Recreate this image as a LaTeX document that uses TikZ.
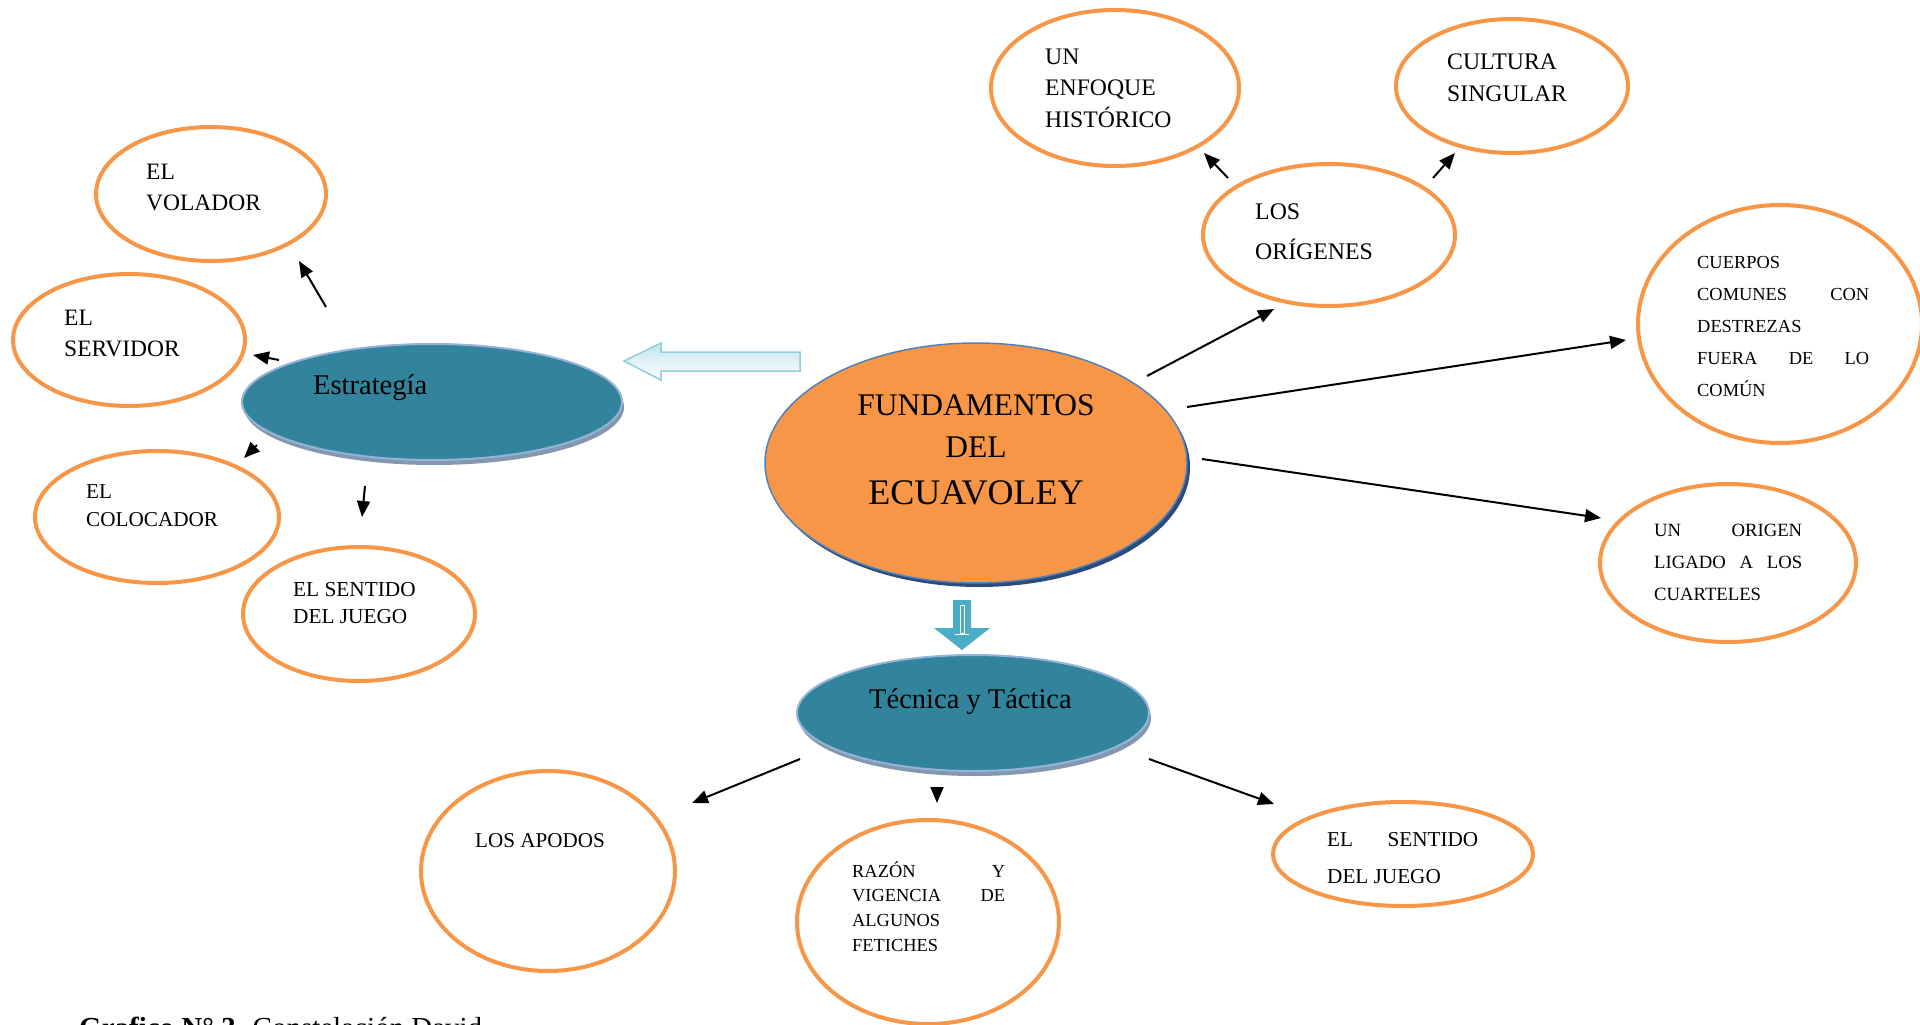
\documentclass[tikz,border=0pt]{standalone}
\usepackage{fontspec}
\setmainfont{Liberation Serif}
\usetikzlibrary{shapes.geometric,arrows.meta}
\definecolor{orng}{HTML}{F79646}
\definecolor{bordblue}{HTML}{4F81BD}
\definecolor{shadblue}{HTML}{2B4C7A}
\definecolor{tealf}{HTML}{31849B}
\definecolor{tealbord}{HTML}{95B3D7}
\definecolor{tealshad}{HTML}{8497B0}
\definecolor{hollowbord}{HTML}{92CDDC}
\definecolor{hollowfill}{HTML}{C5E3ED}
\definecolor{downfill}{HTML}{4BACC6}
\newcommand\boxtext[4]{\parbox[t]{#3}{\fontsize{#1}{#2}\selectfont #4}}
\newcommand\spread[1]{\makebox[\linewidth][s]{#1}}
\tikzset{
  oval/.style={draw=orng, line width=4pt, ellipse, inner sep=0pt},
  tealoval/.style={ellipse, fill=tealf, draw=tealbord, line width=2pt, inner sep=0pt},
  txt/.style={inner sep=0pt, anchor=base west},
  arr/.style={-{Triangle[length=16pt,width=13pt]}, line width=2pt, black},
}
\begin{document}
\begin{tikzpicture}[x=1pt,y=-1pt]
\fill[white] (0,0) rectangle (1920,1025);
\useasboundingbox (0,0) rectangle (1920,1025);

% ---- orange outline ellipses
\node[oval, minimum width=230pt, minimum height=134pt] (volador) at (211,194) {};
\node[oval, minimum width=232pt, minimum height=132pt] (servidor) at (129,340) {};
\node[oval, minimum width=244pt, minimum height=132pt] (colocador) at (157,517) {};
\node[oval, minimum width=232pt, minimum height=134pt] (sentidoL) at (359,614) {};
\node[oval, minimum width=248pt, minimum height=156pt] (enfoque) at (1115,88) {};
\node[oval, minimum width=232pt, minimum height=134pt] (cultura) at (1512,86) {};
\node[oval, minimum width=252pt, minimum height=142pt] (origenes) at (1329,235) {};
\node[oval, minimum width=284pt, minimum height=238pt] (cuerpos) at (1780,324) {};
\node[oval, minimum width=256pt, minimum height=158pt] (cuarteles) at (1728,563) {};
\node[oval, minimum width=254pt, minimum height=200pt] (apodos) at (548,871) {};
\node[oval, minimum width=262pt, minimum height=204pt] (razon) at (928,922) {};
\node[oval, minimum width=260pt, minimum height=104pt] (sentidoR) at (1403,854) {};

% ---- texts in ellipses
\node[txt] (tvolador) at (146,179) {\boxtext{23.5}{31}{200pt}{EL\\VOLADOR}};
\node[txt] (tservidor) at (64,325) {\boxtext{23.5}{31}{200pt}{EL\\SERVIDOR}};
\node[txt] (tcolocador) at (86,498) {\boxtext{21.2}{28}{200pt}{EL\\COLOCADOR}};
\node[txt] (tsentidoL) at (293,596) {\boxtext{21.3}{27}{200pt}{EL SENTIDO\\DEL JUEGO}};
\node[txt] (tenfoque) at (1045,64) {\boxtext{23.7}{31.5}{200pt}{UN\\ENFOQUE\\HISTÓRICO}};
\node[txt] (tcultura) at (1447,70) {\boxtext{23.7}{32}{200pt}{CULTURA\\SINGULAR}};
\node[txt] (torigenes) at (1255,219) {\boxtext{23.8}{40}{200pt}{LOS\\ORÍGENES}};
\node[txt] (tcuerpos) at (1697,268) {\boxtext{18.4}{32}{172pt}{CUERPOS\\\spread{COMUNES CON}\\DESTREZAS\\\spread{FUERA DE LO}\\COMÚN}};
\node[txt] (tcuarteles) at (1654,536) {\boxtext{18.7}{32}{148pt}{\spread{UN ORIGEN}\\\spread{LIGADO A LOS}\\CUARTELES}};
\node[txt] (tapodos) at (475,847) {\boxtext{21.1}{26}{200pt}{LOS APODOS}};
\node[txt] (trazon) at (852,877) {\boxtext{18.4}{24.8}{153pt}{\spread{RAZÓN Y}\\\spread{VIGENCIA DE}\\ALGUNOS\\FETICHES}};
\node[txt] (tsentidoR) at (1327,846) {\boxtext{21.2}{37}{151pt}{\spread{EL SENTIDO}\\DEL JUEGO}};

% ---- central ellipse
\fill[shadblue] (979,467) ellipse [x radius=211, y radius=120];
\node[ellipse, fill=orng, draw=bordblue, line width=1.5pt, minimum width=422pt, minimum height=240pt, inner sep=0pt] (fund) at (976,463) {};
\node[inner sep=0pt, anchor=base] (tfund) at (976,415) {\parbox[t]{320pt}{\centering\fontsize{31.5}{42}\selectfont FUNDAMENTOS\\DEL\\[5pt]{\fontsize{36}{42}\selectfont ECUAVOLEY}}};

% ---- teal ellipses
\fill[tealshad] (434,407) ellipse [x radius=190, y radius=58];
\node[tealoval, minimum width=380pt, minimum height=116pt] (estr) at (432,402) {};
\node[txt] (testr) at (313,394) {\fontsize{28.5}{34}\selectfont Estrategía};

\fill[tealshad] (975,718) ellipse [x radius=176, y radius=58];
\node[tealoval, minimum width=352pt, minimum height=116pt] (tec) at (973,713) {};
\node[txt] (ttec) at (869,708) {\fontsize{28.5}{34}\selectfont Técnica y Táctica};

% ---- hollow left arrow
\filldraw[draw=hollowbord, line width=1.5pt, top color=hollowfill, bottom color=white]
  (624,361) -- (661,343) -- (661,352) -- (800,352) -- (800,371) -- (661,371) -- (661,380) -- cycle;

% ---- down arrow
\fill[downfill] (953,600) -- (971,600) -- (971,628) -- (990,628) -- (962,650) -- (934,628) -- (953,628) -- cycle;
\draw[white, line width=1pt] (960,605) rectangle (964,633);
\draw[white, line width=1pt] (955,634) -- (969,634);

% ---- arrows
\coordinate (a1s) at (326,307); \coordinate (a1e) at (299,261);
\coordinate (a2s) at (279,360); \coordinate (a2e) at (253,355);
\coordinate (a3s) at (257,445); \coordinate (a3e) at (244,458);
\coordinate (a4s) at (365,486); \coordinate (a4e) at (362,517);
\coordinate (a5s) at (1147,376); \coordinate (a5e) at (1274,309);
\coordinate (a6s) at (1228,178); \coordinate (a6e) at (1204,153);
\coordinate (a7s) at (1433,178); \coordinate (a7e) at (1455,153);
\coordinate (a8s) at (1187,407); \coordinate (a8e) at (1626,340);
\coordinate (a9s) at (1202,459); \coordinate (a9e) at (1601,518);
\coordinate (a10s) at (800,759); \coordinate (a10e) at (692,803);
\coordinate (a11s) at (937,787); \coordinate (a11e) at (937,803);
\coordinate (a12s) at (1149,759); \coordinate (a12e) at (1274,804);
\foreach \i in {1,...,12} { \draw[arr] (a\i s) -- (a\i e); }

% ---- caption (cut by the page edge)
\node[inner sep=0pt, anchor=base west] (cap) at (79,1037) {\fontsize{29}{34}\selectfont\textbf{Grafico N° 3.} Constelación David};
\end{tikzpicture}
\end{document}
